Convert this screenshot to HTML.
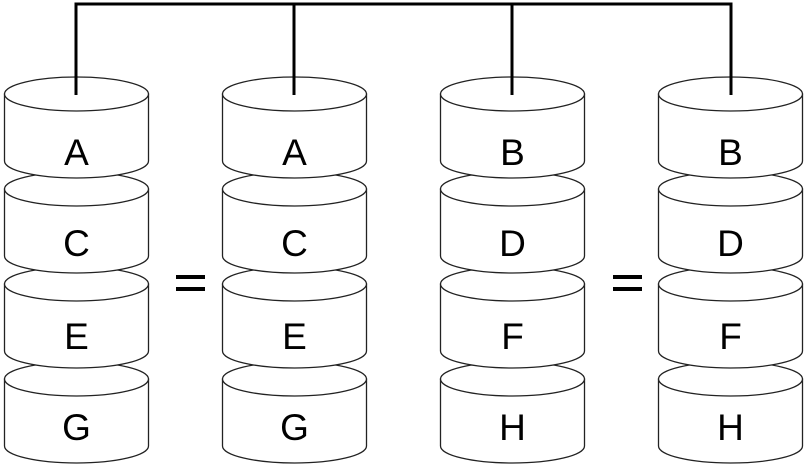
<!DOCTYPE html>
<html><head><style>body{margin:0;background:#fff}</style></head><body>
<svg width="810" height="468" xmlns="http://www.w3.org/2000/svg" xmlns:xlink="http://www.w3.org/1999/xlink" font-family="'Liberation Sans', sans-serif">
<defs>
<g id="cyl" fill="#fff" stroke="#222" stroke-width="1.3">
<path d="M0.5,17 L0.5,84 A72,17 0 0 0 144.5,84 L144.5,17 Z"/>
<ellipse cx="72.5" cy="17" rx="72" ry="17"/>
</g>
</defs>
<use xlink:href="#cyl" x="4" y="362"/><use xlink:href="#cyl" x="4" y="267"/><use xlink:href="#cyl" x="4" y="172"/><use xlink:href="#cyl" x="4" y="77"/>
<use xlink:href="#cyl" x="222" y="362"/><use xlink:href="#cyl" x="222" y="267"/><use xlink:href="#cyl" x="222" y="172"/><use xlink:href="#cyl" x="222" y="77"/>
<use xlink:href="#cyl" x="440" y="362"/><use xlink:href="#cyl" x="440" y="267"/><use xlink:href="#cyl" x="440" y="172"/><use xlink:href="#cyl" x="440" y="77"/>
<use xlink:href="#cyl" x="658" y="362"/><use xlink:href="#cyl" x="658" y="267"/><use xlink:href="#cyl" x="658" y="172"/><use xlink:href="#cyl" x="658" y="77"/>
<g fill="none" stroke="#000" stroke-width="3">
<polyline points="76,95 76,4 731,4 731,95"/>
<line x1="294" y1="4" x2="294" y2="95"/>
<line x1="512" y1="4" x2="512" y2="95"/>
</g>
<g font-size="37" text-anchor="middle" fill="#000">
<text x="76.5" y="165">A</text><text x="76.5" y="256">C</text><text x="76.5" y="349">E</text><text x="76.5" y="440">G</text>
<text x="294.5" y="165">A</text><text x="294.5" y="256">C</text><text x="294.5" y="349">E</text><text x="294.5" y="440">G</text>
<text x="512.5" y="165">B</text><text x="512.5" y="256">D</text><text x="512.5" y="349">F</text><text x="512.5" y="440">H</text>
<text x="730.5" y="165">B</text><text x="730.5" y="256">D</text><text x="730.5" y="349">F</text><text x="730.5" y="440">H</text>
</g>
<g fill="#000">
<rect x="176" y="275" width="29" height="4"/><rect x="176" y="287" width="29" height="4"/>
<rect x="613" y="275" width="29" height="4"/><rect x="613" y="287" width="29" height="4"/>
</g>
</svg>
</body></html>
